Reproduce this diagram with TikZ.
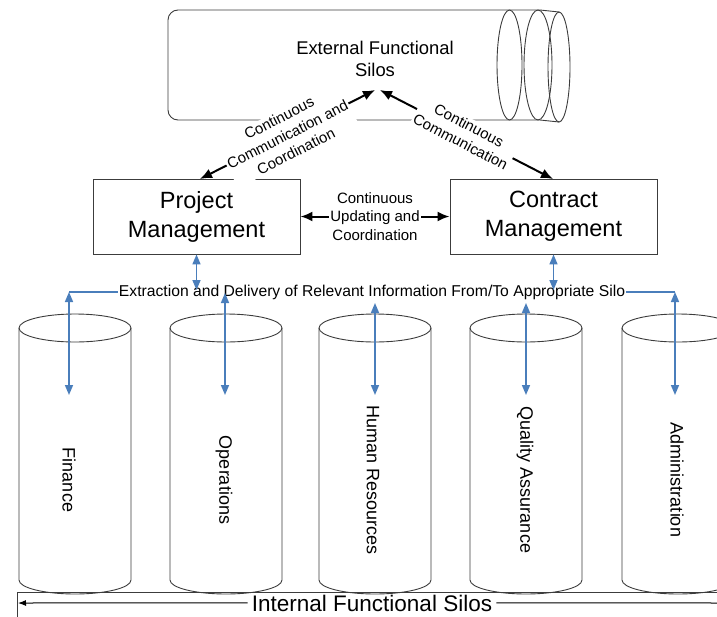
\documentclass[tikz,border=0pt]{standalone}
\usepackage{fontspec}
\setmainfont{Liberation Sans}
\usetikzlibrary{arrows.meta}
\definecolor{lblue}{RGB}{74,126,187}
\definecolor{edge}{RGB}{60,60,60}
\begin{document}
\begin{tikzpicture}[x=1pt,y=1pt,
  blk/.style={line width=2pt,{Latex[length=12pt,width=10pt]}-{Latex[length=12pt,width=10pt]}},
  blu/.style={lblue,line width=1.6pt,{Triangle[length=10pt,width=8pt]}-{Triangle[length=10pt,width=8pt]}},
  bluline/.style={lblue,line width=1.6pt},
  mbox/.style={draw=edge,line width=0.9pt,minimum width=207pt,minimum height=75pt,font=\fontsize{23.5}{29}\selectfont,align=center},
  lbl/.style={fill=white,inner sep=1.5pt,align=center,font=\fontsize{15}{18.5}\selectfont},
  silo/.style={draw=edge,line width=0.9pt},
  silotext/.style={rotate=-90,font=\fontsize{18}{20}\selectfont,inner sep=1pt}
]
\useasboundingbox (0,0) rectangle (717,-616);

% external silo (horizontal cylinder)
\draw[silo,rounded corners=10] (509,-10) -- (168,-10) -- (168,-120) -- (509,-120);
\draw[silo] (509,-10) -- (540,-10) -- (559,-12);
\draw[silo] (509,-120) -- (540,-120) -- (559,-122);
\draw[silo] (509.5,-65) ellipse [x radius=12.5, y radius=55];
\draw[silo] (538,-65) ellipse [x radius=14, y radius=55];
\draw[silo] (559,-67) ellipse [x radius=11, y radius=55];
\node[align=center,font=\fontsize{18.4}{22}\selectfont] (efs) at (375,-59) {External Functional\\Silos};
\coordinate (efs1) at (375,-90);
\coordinate (efs2) at (380,-90);

% management boxes
\node[mbox] (pm) at (196.5,-216.5) {Project\\Management};
\node[mbox] (cm) at (553.5,-216.5) {Contract\\Management};
\coordinate (pmt) at (200,-179);
\coordinate (cmt) at (553,-179);

\draw[blk] (efs1) -- (pmt) node[lbl,midway,sloped] {Continuous\\Communication and\\Coordination};
\draw[blk] (efs2) -- (cmt) node[lbl,pos=0.49,sloped] {Continuous\\Communication};
\draw[blk] (pm.east) -- (cm.west) node[lbl,midway] {Continuous\\Updating and\\Coordination};

% internal silos
\foreach \cx/\tx/\nm/\txt in {75/69/fin/Finance, 226/224/ops/Operations, 375/373/hr/Human Resources, 526/525/qa/Quality Assurance, 678/677/adm/Administration}{
  \draw[silo] (\cx-56,-328) -- (\cx-56,-580) arc[start angle=180,end angle=360,x radius=56,y radius=14] -- (\cx+56,-328);
  \draw[silo] (\cx,-328) ellipse [x radius=56, y radius=14];
  \node[silotext] (\nm) at (\tx,-480) {\txt};
}

% extraction line
\node[font=\fontsize{15.7}{18}\selectfont,inner sep=1pt] (ext) at (372,-292) {Extraction and Delivery of Relevant Information From/To Appropriate Silo};
\coordinate (pmx) at (196.5,-290);
\coordinate (cmx) at (553.5,-290);
\draw[blu] (pm.south) -- (pmx);
\draw[blu] (cm.south) -- (cmx);
\coordinate (c1t) at (69,-292);  \coordinate (c1b) at (69,-395);
\coordinate (c2t) at (225,-293); \coordinate (c2b) at (225,-395);
\coordinate (c3t) at (375,-303); \coordinate (c3b) at (375,-395);
\coordinate (c4t) at (526,-303); \coordinate (c4b) at (526,-395);
\coordinate (c5t) at (675,-292); \coordinate (c5b) at (675,-395);
\draw[bluline] (ext.west) -- (c1t);
\draw[bluline] (ext.east) -- (c5t);
\draw[blu] (c1t) -- (c1b);
\draw[blu] (c2t) -- (c2b);
\draw[blu] (c3t) -- (c3b);
\draw[blu] (c4t) -- (c4b);
\draw[blu] (c5t) -- (c5b);

% bottom frame
\draw[silo] (17,-630) -- (17,-592) -- (740,-592);
\node[font=\fontsize{22.5}{25}\selectfont,inner xsep=4pt,inner ysep=0.5pt,text depth=0pt,anchor=base] (ifs) at (372,-611) {Internal Functional Silos};
\coordinate (ifsl) at (18,-603);
\coordinate (ifsr) at (726,-603);
\draw[line width=1pt,-{Latex[length=8pt,width=6pt]}] (ifs.west) -- (ifsl);
\draw[line width=1pt,-{Latex[length=8pt,width=6pt]}] (ifs.east) -- (ifsr);
\end{tikzpicture}
\end{document}
